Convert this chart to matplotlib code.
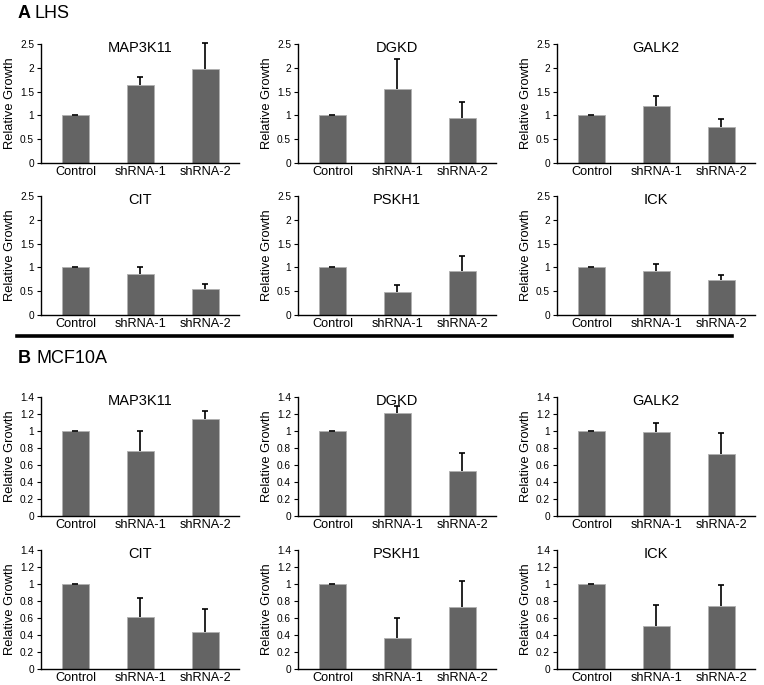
import numpy as np
import matplotlib
matplotlib.use("Agg")
import matplotlib.pyplot as plt
from matplotlib.lines import Line2D
from matplotlib.ticker import FuncFormatter

plt.rcParams["font.family"] = ["Liberation Sans", "DejaVu Sans"]

categories = ["Control", "shRNA-1", "shRNA-2"]
genes = ["MAP3K11", "DGKD", "GALK2", "CIT", "PSKH1", "ICK"]

# panel A: LHS
lhs_means = [
    [1.0, 1.63, 1.97],
    [1.0, 1.55, 0.95],
    [1.0, 1.20, 0.75],
    [1.0, 0.87, 0.55],
    [1.0, 0.49, 0.93],
    [1.0, 0.93, 0.74],
]
lhs_errs = [
    [0.006, 0.17, 0.56],
    [0.006, 0.64, 0.33],
    [0.006, 0.20, 0.18],
    [0.006, 0.14, 0.11],
    [0.006, 0.14, 0.30],
    [0.006, 0.15, 0.11],
]

# panel B: MCF10A
mcf_means = [
    [1.0, 0.77, 1.14],
    [1.0, 1.21, 0.53],
    [1.0, 0.99, 0.73],
    [1.0, 0.61, 0.43],
    [1.0, 0.36, 0.73],
    [1.0, 0.51, 0.74],
]
mcf_errs = [
    [0.004, 0.23, 0.09],
    [0.004, 0.08, 0.21],
    [0.004, 0.10, 0.25],
    [0.004, 0.22, 0.28],
    [0.004, 0.24, 0.31],
    [0.004, 0.24, 0.25],
]

lhs_ticks = [0, 0.5, 1, 1.5, 2, 2.5]
mcf_ticks = [0, 0.2, 0.4, 0.6, 0.8, 1, 1.2, 1.4]

W, H = 764, 685
fig = plt.figure(figsize=(W / 100, H / 100), dpi=100)

col_left = [41, 298, 557]
ax_w = 198
ax_h = 119
row_top = [44, 196, 397, 550]


def draw_panel(ax, title, means, errs, ticks):
    x = np.arange(len(categories))
    ax.bar(x, means, width=0.42, color="#646464", edgecolor="#b0b0b0", linewidth=0.6, zorder=2)
    _, caps, bars = ax.errorbar(x, means, yerr=[np.zeros(len(errs)), errs], fmt="none",
                                ecolor="black", elinewidth=1.2, capsize=2, capthick=1.2, zorder=3)
    # one-sided bars: hide the cap sitting on the bar top
    if len(caps) == 2:
        caps[0].set_visible(False)
    for art in list(caps) + list(bars):
        art.set_clip_on(False)
    ax.set_xlim(-0.53, 2.52)
    ax.set_ylim(0, ticks[-1])
    ax.set_yticks(ticks)
    ax.yaxis.set_major_formatter(FuncFormatter(lambda v, p: f"{v:g}"))
    ax.set_xticks(x)
    ax.set_xticklabels(categories, fontsize=9.2)
    ax.tick_params(axis="x", length=0, pad=2)
    ax.tick_params(axis="y", labelsize=7.3, length=3, width=0.8, direction="out", pad=2)
    for s in ["top", "right"]:
        ax.spines[s].set_visible(False)
    for s in ["left", "bottom"]:
        ax.spines[s].set_linewidth(1.0)
    ax.set_ylabel("Relative Growth", fontsize=9.3, labelpad=3)
    ax.text(0.5, 0.97, title, transform=ax.transAxes, ha="center", va="center", fontsize=10.5)


for i, gene in enumerate(genes):
    r, c = divmod(i, 3)
    for block, (means, errs, ticks) in enumerate([(lhs_means, lhs_errs, lhs_ticks),
                                                 (mcf_means, mcf_errs, mcf_ticks)]):
        top = row_top[block * 2 + r]
        ax = fig.add_axes([col_left[c] / W, 1 - (top + ax_h) / H, ax_w / W, ax_h / H])
        draw_panel(ax, gene, means[i], errs[i], ticks)

# panel labels
fig.text(18 / W, 1 - 13 / H, "A", fontsize=13, fontweight="bold", va="center", ha="left")
fig.text(35 / W, 1 - 13 / H, "LHS", fontsize=13, va="center", ha="left")
fig.text(18 / W, 1 - 358 / H, "B", fontsize=13, fontweight="bold", va="center", ha="left")
fig.text(36 / W, 1 - 358 / H, "MCF10A", fontsize=13, va="center", ha="left")

# separator line
fig.add_artist(Line2D([17 / W, 732 / W], [1 - 336 / H, 1 - 336 / H], color="black", linewidth=2.6))

fig.savefig("out.png", dpi=100)
